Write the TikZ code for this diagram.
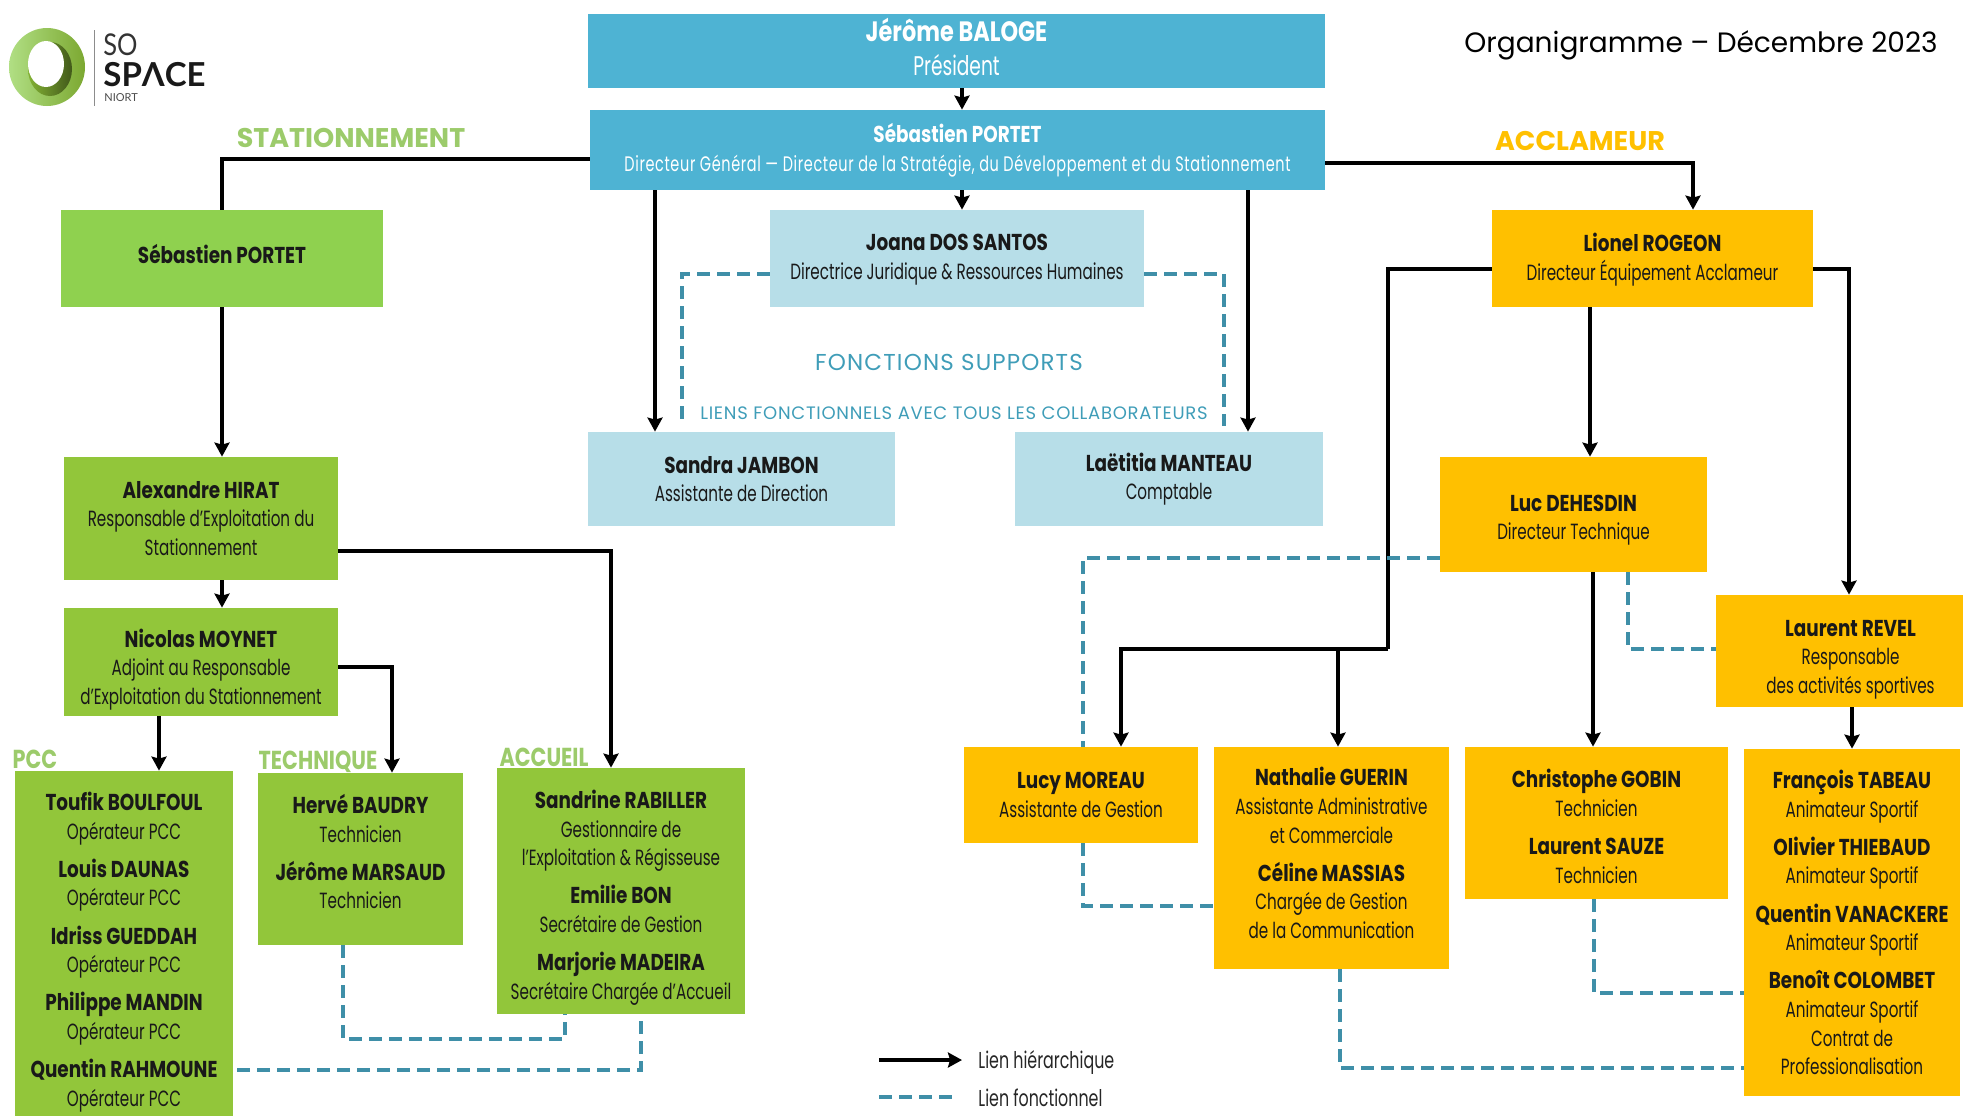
\documentclass[tikz,border=0pt]{standalone}
\usepackage{fontspec}
\usetikzlibrary{arrows.meta,calc}
\setmainfont{Poppins}
\newfontfamily\cond[FakeStretch=0.69]{Poppins}
\newfontfamily\condb[FakeStretch=0.8]{Poppins}
\newfontfamily\plainf{Poppins}
\newfontfamily\logof{Lato}
\definecolor{pres}{HTML}{4EB3D3}
\definecolor{lblue}{HTML}{B7DEE8}
\definecolor{gone}{HTML}{8FD14F}
\definecolor{gtwo}{HTML}{92C63A}
\definecolor{oran}{HTML}{FFC000}
\definecolor{tealdash}{HTML}{3F8FA8}
\definecolor{gtitle}{HTML}{9CCB6B}
\definecolor{teal}{HTML}{3F9DB8}
\newcommand\nm[1]{{\condb\fontsize{11.5}{14.3}\selectfont\bfseries #1}}
\newcommand\dnn[1]{\rule{0pt}{\dimexpr 9pt+#1pt\relax}}
\newcommand\upp[1]{\rule[-\dimexpr 3pt+#1pt\relax]{0pt}{\dimexpr 3pt+#1pt\relax}}
\newcommand\bx[7][]{\node[boxn,fill=#2,minimum width={(#5-#3)*0.5pt},minimum height={(#6-#4)*0.5pt},#1] at ({(#3+#5)/2},{(#4+#6)/2}) {#7};}
\tikzset{
 boxn/.style={draw=none,inner sep=0pt,align=center,text=black!90,font=\cond\fontsize{11}{14.3}\selectfont},
 hier/.style={line width=2.2pt,draw=black,-{Stealth[length=7pt,width=7.5pt,inset=1pt]}},
 hierplain/.style={line width=2.2pt,draw=black},
 func/.style={line width=2.2pt,draw=tealdash,dash pattern=on 6.5pt off 3.5pt},
 sect/.style={inner sep=0pt,font=\plainf\fontsize{13.5}{15}\selectfont\bfseries},
 subsect/.style={inner sep=0pt,text=gtitle,font=\condb\fontsize{13}{15}\selectfont\bfseries},
 leg/.style={inner sep=0pt,anchor=west,text=black!85,font=\cond\fontsize{11.5}{12}\selectfont},
}
\begin{document}
\begin{tikzpicture}[x=0.5pt,y=-0.5pt]
\useasboundingbox (0,0) rectangle (1963,1115);
% logo
\shade[left color=gone!70!white,right color=gtwo!85!black]
  (47,67) ellipse [x radius=38,y radius=39];
\shade[left color=gtwo!90!black,right color=gtwo!45!black]
  (50,69) ellipse [x radius=22,y radius=27];
\fill[white] (46,64) ellipse [x radius=18,y radius=23];
\draw[line width=0.5pt,draw=black!45] (94,30) -- (94,106);
\node[inner sep=0pt,anchor=west,text=black!80] (logoa) at (103,45) {\logof\fontsize{15}{15}\selectfont\addfontfeature{FakeStretch=0.85}SO};
\node[inner sep=0pt,anchor=west,text=black!90] (logob) at (103,75) {\logof\fontsize{16.5}{17}\selectfont\bfseries SPΛCE};
\node[inner sep=0pt,anchor=west,text=black!70] (logoc) at (104,98) {\logof\fontsize{5.5}{6}\selectfont NIORT};
% top boxes
\bx[text=white,font=\cond\fontsize{13.5}{17}\selectfont,alias=pres]{pres}{588}{14}{1325}{88}{{\condb\fontsize{14}{17}\selectfont\bfseries Jérôme BALOGE}\\Président\upp{1.5}}
\bx[text=white,font=\cond\fontsize{10.5}{14.3}\selectfont,alias=dg]{pres}{590}{110}{1325}{190}{\nm{Sébastien PORTET}\\\addfontfeature{LetterSpace=3}Directeur Général — Directeur de la Stratégie, du Développement et du Stationnement}
\bx[alias=joana]{lblue}{770}{210}{1144}{307}{\dnn{0.5}\nm{Joana DOS SANTOS}\\Directrice Juridique \& Ressources Humaines}
\bx[alias=sandra]{lblue}{588}{432}{895}{526}{\nm{Sandra JAMBON}\\Assistante de Direction}
\bx[alias=laet]{lblue}{1015}{432}{1323}{526}{\nm{Laëtitia MANTEAU}\\Comptable}
% stationnement
\bx[alias=seb]{gone}{61}{210}{383}{307}{\nm{Sébastien PORTET}\upp{1.5}}
\bx[alias=alex]{gtwo}{64}{457}{338}{580}{\nm{Alexandre HIRAT}\\Responsable d’Exploitation du\\Stationnement}
\bx[alias=nico]{gtwo}{64}{608}{338}{716}{\dnn{7.5}\nm{Nicolas MOYNET}\\Adjoint au Responsable\\d’Exploitation du Stationnement}
\bx[alias=pcc]{gtwo}{15}{771}{233}{1133}{\nm{Toufik BOULFOUL}\\Opérateur PCC\\[4.8pt]\nm{Louis DAUNAS}\\Opérateur PCC\\[4.8pt]\nm{Idriss GUEDDAH}\\Opérateur PCC\\[4.8pt]\nm{Philippe MANDIN}\\Opérateur PCC\\[4.8pt]\nm{Quentin RAHMOUNE}\\Opérateur PCC}
\bx[alias=tech]{gtwo}{258}{773}{463}{945}{\nm{Hervé BAUDRY}\\Technicien\\[4.8pt]\nm{Jérôme MARSAUD}\\Technicien\upp{4.4}}
\bx[alias=acc]{gtwo}{497}{768}{745}{1014}{\dnn{6.9}\nm{Sandrine RABILLER}\\Gestionnaire de\\l’Exploitation \& Régisseuse\\[4.8pt]\nm{Emilie BON}\\Secrétaire de Gestion\\[4.8pt]\nm{Marjorie MADEIRA}\\Secrétaire Chargée d’Accueil}
% acclameur
\bx[alias=lionel]{oran}{1492}{210}{1813}{307}{\dnn{1.25}\nm{Lionel ROGEON}\\Directeur Équipement Acclameur}
\bx[alias=luc]{oran}{1440}{457}{1707}{572}{\dnn{5}\nm{Luc DEHESDIN}\\Directeur Technique}
\bx[alias=revel]{oran}{1716}{595}{1985}{707}{\dnn{7.5}\nm{Laurent REVEL}\\Responsable\\des activités sportives}
\bx[alias=lucy]{oran}{964}{747}{1198}{843}{\nm{Lucy MOREAU}\\Assistante de Gestion}
\bx[alias=nath]{oran}{1214}{747}{1449}{969}{\nm{Nathalie GUERIN}\\Assistante Administrative\\et Commerciale\\[4.8pt]\nm{Céline MASSIAS}\\Chargée de Gestion\\de la Communication\upp{2}}
\bx[alias=chris]{oran}{1465}{747}{1728}{899}{\dnn{3.75}\nm{Christophe GOBIN}\\Technicien\\[4.8pt]\nm{Laurent SAUZE}\\Technicien}
\bx[alias=fran]{oran}{1744}{749}{1960}{1096}{\nm{François TABEAU}\\Animateur Sportif\\[4.8pt]\nm{Olivier THIEBAUD}\\Animateur Sportif\\[4.8pt]\nm{Quentin VANACKERE}\\Animateur Sportif\\[4.8pt]\nm{Benoît COLOMBET}\\Animateur Sportif\\Contrat de\\Professionalisation}
% titles
\node[inner sep=0pt] (title) at (1701,45) {\plainf\fontsize{14}{16}\selectfont Organigramme – Décembre 2023};
\node[sect,text=gtitle] (tstat) at (351,138) {STATIONNEMENT};
\node[sect,text=oran] (tacc) at (1580,141) {ACCLAMEUR};
\node[subsect] (tpcc) at (35,759) {PCC};
\node[subsect] (ttech) at (318,762) {TECHNIQUE};
\node[subsect] (tacu) at (544,757) {ACCUEIL};
\node[inner sep=0pt,text=teal] (tfs) at (949,362) {\plainf\fontsize{11.5}{14}\selectfont\addfontfeature{LetterSpace=5}FONCTIONS SUPPORTS};
\node[inner sep=0pt,text=teal] (tlf) at (954,413) {\plainf\fontsize{9}{10}\selectfont\addfontfeature{LetterSpace=4}LIENS FONCTIONNELS AVEC TOUS LES COLLABORATEURS};
% guides
\coordinate (g1) at (222,159);
\coordinate (g2) at (611,551);
\coordinate (g3) at (392,667);
\coordinate (g4) at (159,0);
\coordinate (g5) at (655,0);
\coordinate (g6) at (962,0);
\coordinate (g7) at (1248,0);
\coordinate (g8) at (1693,163);
\coordinate (g9) at (1849,269);
\coordinate (g10) at (1590,0);
\coordinate (g11) at (1388,269);
\coordinate (g12) at (1121,649);
\coordinate (g13) at (1338,649);
\coordinate (g14) at (1593,0);
\coordinate (g15) at (1852,0);
% hierarchical links
\draw[hier] (pres.south -| g6) -- (dg.north -| g6);
\draw[hierplain] (dg.west |- g1) -| (seb.north -| g1);
\draw[hier] (seb.south -| g1) -- (alex.north -| g1);
\draw[hier] (alex.south -| g1) -- (nico.north -| g1);
\draw[hier] (alex.east |- g2) -| (acc.north -| g2);
\draw[hier] (nico.east |- g3) -| (tech.north -| g3);
\draw[hier] (nico.south -| g4) -- (pcc.north -| g4);
\draw[hier] (dg.south -| g5) -- (sandra.north -| g5);
\draw[hier] (dg.south -| g6) -- (joana.north -| g6);
\draw[hier] (dg.south -| g7) -- (laet.north -| g7);
\draw[hier] (dg.east |- g8) -| (lionel.north -| g8);
\draw[hier] (lionel.east |- g9) -| (revel.north -| g9);
\draw[hier] (lionel.south -| g10) -- (luc.north -| g10);
\draw[hierplain] (lionel.west |- g11) -- (g11) -- (g11 |- g13);
\draw[hier] (g11 |- g13) -- (g12) -- (lucy.north -| g12);
\draw[hier] (g13) -- (nath.north -| g13);
\draw[hier] (luc.south -| g14) -- (chris.north -| g14);
\draw[hier] (revel.south -| g15) -- (fran.north -| g15);
% functional links
\coordinate (d1) at (682,274);
\coordinate (d2) at (1224,274);
\coordinate (d3) at (1083,558);
\coordinate (d4) at (1083,906);
\coordinate (d5) at (1628,649);
\coordinate (d6) at (1594,993);
\coordinate (d7) at (1340,1068);
\coordinate (d8) at (343,1039);
\coordinate (d9) at (565,1039);
\coordinate (d10) at (641,1070);
\coordinate (d11) at (641,1017);
\coordinate (d12) at (682,426);
\coordinate (d13) at (1224,426);
\coordinate (d14) at (237,1070);
\draw[func] (joana.west |- d1) -- (d1) -- (d12);
\draw[func] (joana.east |- d2) -- (d2) -- (d13);
\draw[func] (luc.west |- d3) -- (d3) -- (lucy.north -| d3);
\draw[func] (lucy.south -| d4) -- (d4) -- (nath.west |- d4);
\draw[func] (luc.south -| d5) -- (d5) -- (revel.west |- d5);
\draw[func] (chris.south -| d6) -- (d6) -- (fran.west |- d6);
\draw[func] (nath.south -| d7) -- (d7) -- (fran.west |- d7);
\draw[func] (tech.south -| d8) -- (d8) -- (d9) -- (acc.south -| d9);
\draw[func] (d14) -- (d10) -- (d11);
% legend
\coordinate (l1) at (879,1060);
\coordinate (l2) at (962,1060);
\coordinate (l3) at (879,1097);
\coordinate (l4) at (956,1097);
\draw[hier] (l1) -- (l2);
\draw[func] (l3) -- (l4);
\node[leg] (lh) at (978,1062) {Lien hiérarchique};
\node[leg] (lf) at (978,1098) {Lien fonctionnel};
\end{tikzpicture}
\end{document}
